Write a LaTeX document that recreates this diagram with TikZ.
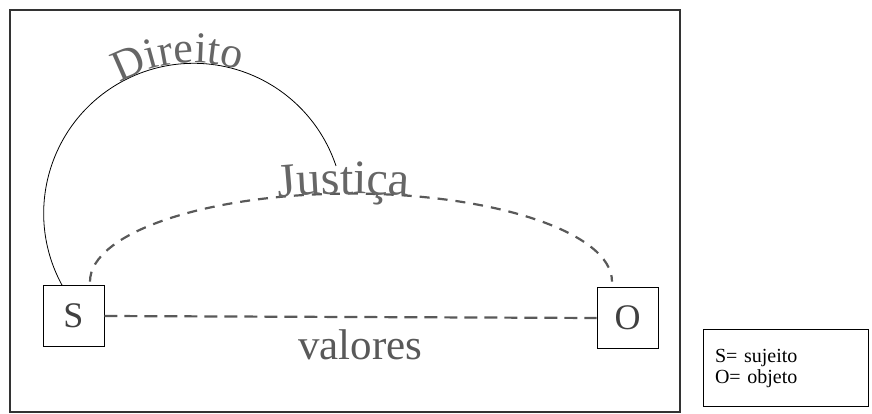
\documentclass[tikz,border=0pt]{standalone}
\usepackage{fontspec}
\setmainfont{Liberation Serif}
\usetikzlibrary{decorations.text}
\begin{document}
\begin{tikzpicture}[x=1pt,y=1pt,line width=0.8pt,
		box/.style={draw,minimum width=61pt,minimum height=61pt,inner sep=0pt,text=black!75,font=\fontsize{36}{36}\selectfont},
		dashline/.style={draw=black!65,line width=2.2pt,dash pattern=on 10pt off 8pt},
		arcword/.style 2 args={decorate,decoration={text along path,text align=center,text color=black!60,raise=0pt,text={|\fontsize{#2}{#2}\selectfont|#1}}}]
	\useasboundingbox (0,0) rectangle (872,414);
	\draw[line width=1.2pt,black!80] (10,2) rectangle (680,404);
	
	\node[box] (S) at (73.5,98) {S};
	\node[box] (O) at (627.5,96) {O};
	
	% Direito
	\draw ([xshift=-11.5pt]S.north) arc[start angle=208.6,end angle=18.4,radius=150] coordinate (jend);
	\path[arcword={Direito}{44}] (194,201) ++(143:150) arc[start angle=143,end angle=49,radius=150];
	
	% Justica
	\draw[dashline] ([shift={(16.5,3.5)}]S.north) arc[start angle=180,end angle=0,x radius=261,y radius=88];
	\path[arcword={Justiça}{48}] (351,132) ++(134:261 and 88) arc[start angle=134,end angle=50,x radius=261,y radius=88];
	
	% valores
	\draw[dashline,dash pattern=on 13pt off 7pt] (S.east) -- node[pos=0.52,below=8pt,text=black!65,font=\fontsize{43}{43}\selectfont] (val) {valores} (O.west);
	
	\node[draw,line width=1pt,minimum height=77pt,text width=141pt,inner xsep=12pt,align=left,font=\fontsize{20}{21}\selectfont] (key) at (785.5,45.5) {S= sujeito\\O= objeto};
\end{tikzpicture}
\end{document}
